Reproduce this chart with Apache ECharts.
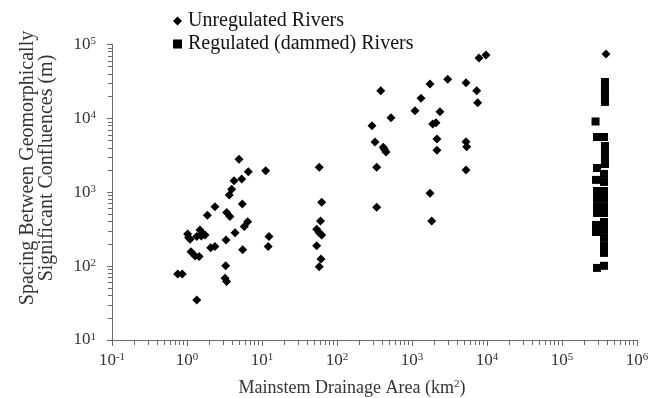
<!DOCTYPE html>
<html>
<head>
<meta charset="utf-8">
<script src="https://cdn.jsdelivr.net/npm/echarts@6/dist/echarts.min.js"></script>
<style>
  html, body { margin: 0; padding: 0; background: #fff; }
  #chart { width: 649px; height: 398px; }
</style>
</head>
<body>
<div id="chart"></div>
<script>
// Mainstem drainage area (km²) vs. spacing between confluences (m)
const unregulatedArea = [
  4.94, 6.57, 11.2, 5.36, 4.23, 3.94, 3.66, 5.46, 2.36, 1.87, 3.38, 3.74, 6.45, 5.81, 4.37,
  3.31, 12.4, 12.1, 5.53, 2.07, 2.36, 1.02, 1.10, 1.35, 1.49, 1.60, 1.74, 1.13, 1.28, 1.45,
  3.28, 3.21, 3.37, 0.752, 0.865, 1.35, 1.05, 1.55,
  58, 62.5, 60.3, 53.6, 58, 62.5, 53.6, 61.2, 58,
  383, 525, 293, 321, 414, 450, 430, 338, 338,
  1096, 1318, 1738, 2990, 5250, 7290, 7520, 2360, 1888, 2090, 2150, 2150, 5250, 5360, 5250,
  1738, 1832, 7820, 9700,
  386000
];
const unregulatedSpacing = [
  2800, 1900, 1960, 1510, 1435, 1100, 920, 695, 638, 489, 530, 468, 400, 343, 284,
  226, 251, 184, 166, 178, 184, 273, 231, 251, 309, 279, 264, 157, 137, 135,
  101, 68.6, 61.7, 78.4, 78.4, 34.9, 245, 255,
  2180, 732, 409, 316, 284, 264, 189, 125, 98,
  23700, 10200, 7970, 4790, 4060, 3500, 3800, 2180, 627,
  12700, 18700, 29200, 33800, 30400, 23700, 16300, 12300, 8400, 8750, 5260, 3700, 4840, 4140, 2000,
  969, 409, 65600, 72100,
  74400
];
const regulatedArea = [
  374000, 374000, 374000, 374000, 374000, 374000,
  280000, 293000, 363000,
  374000, 374000, 374000, 374000,
  293000, 363000, 284000, 363000,
  293000, 363000, 293000, 363000, 293000, 363000, 293000, 363000,
  284000, 284000, 363000, 363000, 363000, 363000, 363000,
  293000, 363000
];
const regulatedSpacing = [
  31100, 27400, 24200, 21400, 18900, 16700,
  9080, 5600, 5600,
  4230, 3510, 2910, 2410,
  2130, 1770, 1470, 1380,
  1040, 1040, 812, 812, 632, 632, 524, 524,
  361, 290, 396, 309, 241, 188, 151,
  94.6, 101
];

// axis extents
const xRange = [0.1, 1e6];
const yRange = [10, 1e5];

const serif = '"Liberation Serif", "Times New Roman", serif';
const axisGray = '#6a6a6a';
const textGray = '#333';

const zip = (a, b) => a.map((v, i) => [v, b[i]]);

// tick labels written as 10 with a raised exponent
const powLabel = (v) => {
  const e = Math.round(Math.log10(v));
  return '{b|10}{s|' + e + '}';
};
const labelRich = {
  b: { fontFamily: serif, fontSize: 17, color: textGray },
  s: { fontFamily: serif, fontSize: 11, color: textGray, verticalAlign: 'top', lineHeight: 11 }
};

const chart = echarts.init(document.getElementById('chart'), null, { renderer: 'canvas' });

chart.setOption({
  animation: false,
  backgroundColor: '#fff',
  grid: { left: 112, right: 12, top: 44.5, bottom: 58, outerBoundsMode: 'none', containLabel: false },
  legend: {
    orient: 'vertical',
    left: 168,
    top: 6,
    itemGap: 3,
    itemWidth: 9,
    itemHeight: 9,
    data: [
      { name: 'Unregulated Rivers', icon: 'diamond' },
      { name: 'Regulated (dammed) Rivers', icon: 'rect' }
    ],
    textStyle: { fontFamily: serif, fontSize: 20, color: '#111', padding: [0, 0, 0, 1] }
  },
  xAxis: {
    type: 'log',
    logBase: 10,
    min: xRange[0],
    max: xRange[1],
    splitLine: { show: false },
    axisLine: { lineStyle: { color: axisGray, width: 1 } },
    axisTick: { show: true, length: 6, lineStyle: { color: axisGray } },
    minorTick: { show: true, splitNumber: 9, length: 5, lineStyle: { color: axisGray, width: 1 } },
    axisLabel: { formatter: powLabel, rich: labelRich, margin: 12, showMaxLabel: true, showMinLabel: true }
  },
  yAxis: {
    type: 'log',
    logBase: 10,
    min: yRange[0],
    max: yRange[1],
    splitLine: { show: false },
    axisLine: { show: true, lineStyle: { color: axisGray, width: 1 } },
    axisTick: { show: true, length: 5, lineStyle: { color: axisGray } },
    minorTick: { show: true, splitNumber: 9, length: 4, lineStyle: { color: axisGray, width: 1 } },
    axisLabel: { formatter: powLabel, rich: labelRich, margin: 16 }
  },
  graphic: [
    {
      type: 'text',
      x: 28, y: 168, rotation: Math.PI / 2,
      style: {
        text: 'Spacing Between Geomorphically',
        fontFamily: serif, fontSize: 20, fill: textGray,
        align: 'center', verticalAlign: 'middle'
      }
    },
    {
      type: 'text',
      x: 47, y: 168, rotation: Math.PI / 2,
      style: {
        text: 'Significant Confluences (m)',
        fontFamily: serif, fontSize: 20, fill: textGray,
        align: 'center', verticalAlign: 'middle'
      }
    },
    {
      type: 'text',
      x: 352, y: 388,
      style: {
        text: '{a|Mainstem Drainage Area (km}{s|2}{a|)}',
        align: 'center', verticalAlign: 'middle',
        rich: {
          a: { fontFamily: serif, fontSize: 18, fill: textGray },
          s: { fontFamily: serif, fontSize: 11, fill: textGray, verticalAlign: 'top', lineHeight: 11 }
        }
      }
    }
  ],
  series: [
    {
      name: 'Unregulated Rivers',
      type: 'scatter',
      symbol: 'diamond',
      symbolSize: 9,
      itemStyle: { color: '#000', opacity: 1 },
      data: zip(unregulatedArea, unregulatedSpacing)
    },
    {
      name: 'Regulated (dammed) Rivers',
      type: 'scatter',
      symbol: 'rect',
      symbolSize: 8,
      itemStyle: { color: '#000', opacity: 1 },
      data: zip(regulatedArea, regulatedSpacing)
    }
  ]
});
</script>
</body>
</html>
